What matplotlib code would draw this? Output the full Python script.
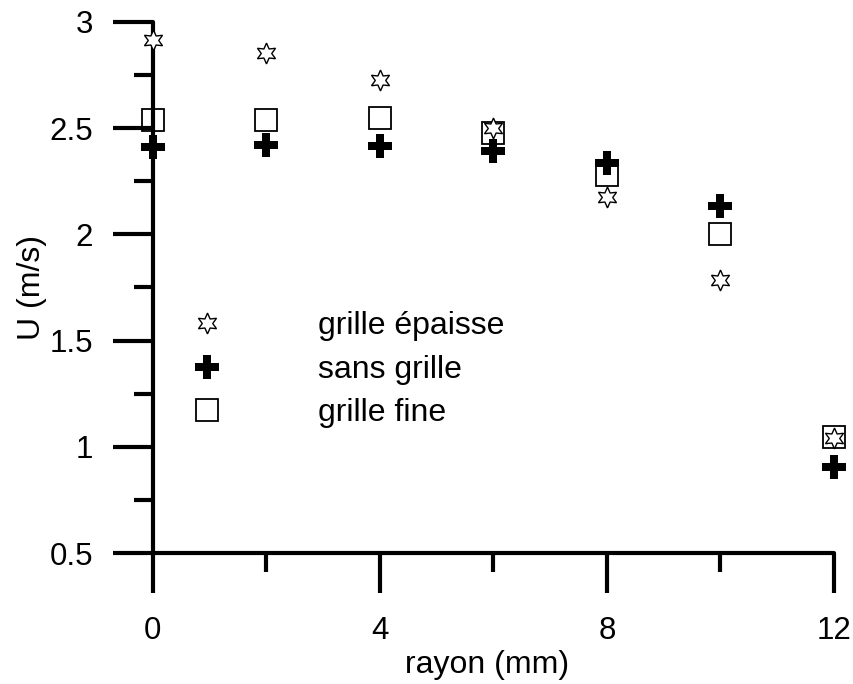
import matplotlib
matplotlib.use("Agg")
import matplotlib.pyplot as plt
from matplotlib.ticker import MultipleLocator

# rayon (mm) et vitesse U (m/s)
rayon = [0, 2, 4, 6, 8, 10, 12]
u_epaisse = [2.915, 2.854, 2.727, 2.50, 2.176, 1.785, 1.04]
u_sans = [2.41, 2.42, 2.416, 2.39, 2.336, 2.134, 0.905]
u_fine = [2.54, 2.54, 2.548, 2.477, 2.28, 2.0, 1.046]

plt.rcParams["font.family"] = ["Liberation Sans", "DejaVu Sans"]

fig = plt.figure(figsize=(8.54, 6.84), dpi=100)
ax = fig.add_axes([0.179, 0.1915, 0.7976, 0.7765])

ax.plot(rayon, u_fine, ls="none", marker="s", ms=15.5, mfc="none", mec="black",
        mew=1.3, clip_on=False, zorder=3, label="grille fine")
ax.plot(rayon, u_sans, ls="none", marker="P", ms=17, mfc="black", mec="black",
        mew=0, clip_on=False, zorder=4, label="sans grille")
ax.plot(rayon, u_epaisse, ls="none", marker=(6, 1, 0), ms=15, mfc="white", mec="black",
        mew=1.0, clip_on=False, zorder=5, label="grille épaisse")

ax.set_xlim(0, 12)
ax.set_ylim(0.5, 3)
ax.xaxis.set_major_locator(MultipleLocator(4))
ax.xaxis.set_minor_locator(MultipleLocator(2))
ax.yaxis.set_major_locator(MultipleLocator(0.5))
ax.yaxis.set_minor_locator(MultipleLocator(0.25))
ax.set_yticks([0.5, 1, 1.5, 2, 2.5, 3], ["0.5", "1", "1.5", "2", "2.5", "3"])

for s in ["top", "right"]:
    ax.spines[s].set_visible(False)
for s in ["left", "bottom"]:
    ax.spines[s].set_linewidth(3)
    ax.spines[s].set_capstyle("round")

ax.tick_params(which="major", length=29, width=3, direction="out", labelsize=22.5)
ax.tick_params(which="minor", length=14, width=3, direction="out")
ax.tick_params(axis="x", which="major", pad=16)
ax.tick_params(axis="y", which="major", pad=14)

ax.set_xlabel("rayon (mm)", fontsize=23, labelpad=0)
ax.xaxis.set_label_coords(0.49, -0.183)
ax.set_ylabel("U (m/s)", fontsize=23, labelpad=2)

h, l = ax.get_legend_handles_labels()
ax.legend(h[::-1], l[::-1], loc="upper left", bbox_to_anchor=(0.0137, 0.479),
          frameon=False, fontsize=23, handletextpad=2.48, labelspacing=0.42,
          borderaxespad=0)

plt.savefig("out.png", dpi=100)
